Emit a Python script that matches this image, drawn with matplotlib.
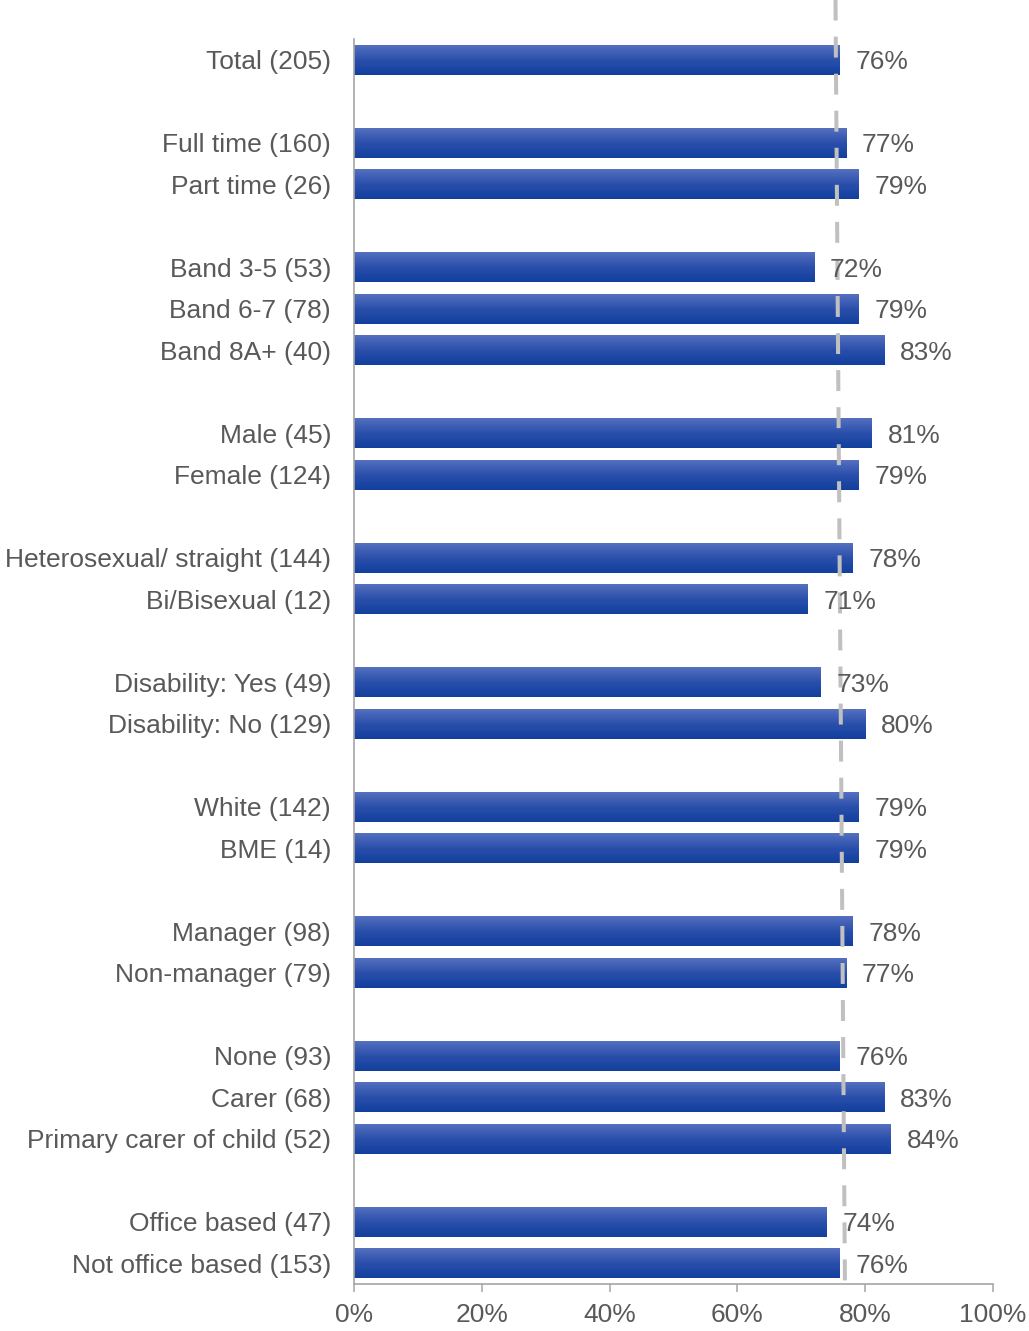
import matplotlib.pyplot as plt
import numpy as np
from matplotlib.colors import LinearSegmentedColormap

plt.rcParams['font.family'] = ['Liberation Sans', 'DejaVu Sans']

# groups of categories, each group separated by a blank row
groups = [
    ['Total (205)'],
    ['Full time (160)', 'Part time (26)'],
    ['Band 3-5 (53)', 'Band 6-7 (78)', 'Band 8A+ (40)'],
    ['Male (45)', 'Female (124)'],
    ['Heterosexual/ straight (144)', 'Bi/Bisexual (12)'],
    ['Disability: Yes (49)', 'Disability: No (129)'],
    ['White (142)', 'BME (14)'],
    ['Manager (98)', 'Non-manager (79)'],
    ['None (93)', 'Carer (68)', 'Primary carer of child (52)'],
    ['Office based (47)', 'Not office based (153)'],
]
values = [76, 77, 79, 72, 79, 83, 81, 79, 78, 71, 73, 80, 79, 79, 78, 77, 76, 83, 84, 74, 76]

# average reference line (start/end x in %)
avg_line = [75.35, 76.85]

x_ticks = [0, 20, 40, 60, 80, 100]

text_col = '#595959'
axis_col = '#a6a6a6'
fs = 19

labels = []
positions = []
row = 0
for g in groups:
    for name in g:
        labels.append(name)
        positions.append(row)
        row += 1
    row += 1
n_rows = row - 1

fig = plt.figure(figsize=(10.29, 13.31), dpi=100)
ax = fig.add_axes([0.344, 0.0353, 0.621, 0.9354])

grad = LinearSegmentedColormap.from_list('bargrad', ['#5570bf', '#2a4fab', '#123f9e'])
gimg = np.linspace(0, 1, 64).reshape(-1, 1)

bar_h = 0.72
bars = ax.barh(positions, values, height=bar_h, color='#1f47a5', linewidth=0, zorder=2)
for b in bars:
    x0, y0 = b.get_x(), b.get_y()
    im = ax.imshow(gimg, cmap=grad, aspect='auto', zorder=2.5,
                   extent=[x0, x0 + b.get_width(), y0 + b.get_height(), y0],
                   interpolation='bilinear')
    im.set_clip_path(b)

for y, v in zip(positions, values):
    ax.text(v + 2.5, y, f'{v}%', va='center_baseline', ha='left', fontsize=fs,
            color=text_col, zorder=5)

ax.set_xlim(0, 100)
ax.set_ylim(n_rows - 0.5, -0.5)

ax.plot(avg_line, [-1.45, 29.8], color='#c0c0c0', linewidth=2.9,
        dashes=(5.2, 4.0), clip_on=False, zorder=4)

ax.set_yticks(positions)
ax.set_yticklabels(labels, fontsize=fs, color=text_col, va='center_baseline')
ax.tick_params(axis='y', length=0, pad=16.5)

ax.set_xticks(x_ticks)
ax.set_xticklabels([f'{t}%' for t in x_ticks], fontsize=fs, color=text_col)
ax.tick_params(axis='x', length=6, width=1.1, color=axis_col, direction='out', pad=8)

for s in ['top', 'right']:
    ax.spines[s].set_visible(False)
for s in ['left', 'bottom']:
    ax.spines[s].set_color(axis_col)
    ax.spines[s].set_linewidth(1.2)

fig.savefig('out.png', dpi=100)
